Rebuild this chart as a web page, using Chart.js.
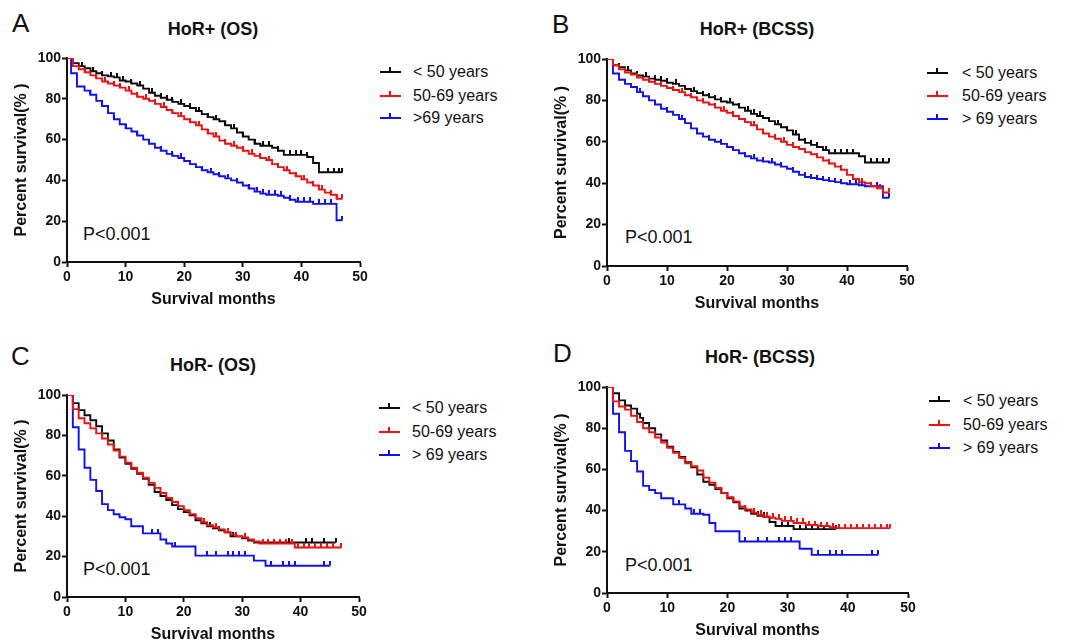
<!DOCTYPE html>
<html><head><meta charset="utf-8">
<script src="https://cdn.jsdelivr.net/npm/chart.js@4.4.1/dist/chart.umd.min.js"></script>
<style>
html,body{margin:0;padding:0;background:#fff;}
body{width:1065px;height:644px;position:relative;overflow:hidden;font-family:"Liberation Sans",Arial,Helvetica,sans-serif;color:#111;}
.abs{position:absolute;white-space:nowrap;line-height:1;}
.letter{font-size:26px;}
.title{font-size:18px;font-weight:bold;transform:translateX(-50%);}
.pval{font-size:18px;}
.leg{font-size:16px;}
.lm{position:absolute;height:2px;}
.lm i{position:absolute;left:9px;top:-4px;width:2px;height:4px;}
.box{position:absolute;}
</style></head><body>
<script>
// ---------- DATA (months, percent survival, censor months) ----------
const groupLabelsA = ["< 50 years", "50-69 years", ">69 years"];
const groupLabels  = ["< 50 years", "50-69 years", "> 69 years"];
const panelTitles  = ["HoR+ (OS)", "HoR+ (BCSS)", "HoR- (OS)", "HoR- (BCSS)"];
const panelLetters = ["A", "B", "C", "D"];
const pText = "P<0.001";
const xTicksMax = 50, xStep = 10, yTicksMax = 100, yStep = 20;

// Panel A: HoR+ (OS)
const A_lt50_t = [0,1,2,3,4,5,6,7,8,9,10,11,12,13,14,15,16,17,18,19,20,21,22,23,24,25,26,27,28,29,30,31,32,33,35,36,37,41,42,43,47];
const A_lt50_s = [100,97.5,96,95,93.5,92.5,91.5,91,90.5,89,88.5,87.5,86.5,85,83,81.5,80.5,79.5,78.5,77.5,76.5,75.5,74,72.5,71,70,69,67,65.5,63.5,61.5,60,58,57,56,54.5,52.5,51.5,48.5,44,44];
const A_lt50_c = [2.5,4.5,6,7.5,8.5,9.5,11,12.5,14.5,16,17,18,19.5,21,22.5,24,25.5,27,28.5,30,32,33.5,34.5,36,38,39,40,41,44.5,45.5,46.5,47];
const A_mid_t  = [0,1,2,3,4,5,6,7,8,9,10,11,12,13,14,15,16,17,18,19,20,21,22,23,24,25,26,27,28,29,30,31,32,33,34,35,36,37,38,39,40,41,42,43,44,45,46,47];
const A_mid_s  = [100,96,94.5,93,91.5,90,88.5,87.5,86.5,85.5,84,82.5,81,80,79,77.5,76,74.5,73,71.5,70,68.5,67,65,63,61.5,59.5,58,57,56,54.5,53,52,51,50,48,46.5,45,43.5,42,40.5,39,37.5,35.5,34,33,31,31];
const A_mid_c  = [3,5,6.5,8,9,10.5,12,13.5,15,16.5,18,19.5,21,22.5,24,25.5,27,28.5,30,31.5,33,34.5,36,37.5,39,40.5,42,43.5,45,46,47];
const A_gt69_t = [0,0.7,1.7,3,4,5,6,7,8,9,10,11,12,13,14,15,16,17,18,19,20,21,22,23,24,25,26,27,28,29,30,31,32,33,34,36,37,38,39,42,46,47];
const A_gt69_s = [100,92.5,86,84,82,79,76.5,73,70,67.5,65.5,64,62,60,58,56,54.5,53,52,51,49.5,48,46.5,45,44,43,42,41,40,39,37.5,36,34.5,33.5,33,32.5,31.5,30.5,29.5,28.5,20.5,20.5];
const A_gt69_c = [4,6,8,10,12,14,16,18,19.5,21,23,24.5,26,27.5,29,31,32.5,33.5,34.5,35.5,36.5,38,39.5,40.5,41.5,43,44,45,47];

// Panel B: HoR+ (BCSS)
const B_lt50_t = [0,1,2,3,4,5,6,7,8,9,10,11,12,13,14,15,16,17,18,19,20,21,22,23,24,25,26,27,28,29,30,31,32,33,34,35,36,37,42,43,47];
const B_lt50_s = [100,97,96,94.5,93,92,91.5,90.5,90,89.5,88.5,88,87,85.5,84.5,83.5,82.5,81.5,80.5,79.5,79,78,76.5,75,73.5,72.5,71.5,70,68.5,67,65.5,63.5,61,59.5,58.5,57.5,56,54.5,53,50,50];
const B_lt50_c = [2,3.5,5,6.5,8,9,10,11.5,13,14.5,16,17,18,19,20.5,22,23.5,24.5,25.5,27,28.5,30,31.5,33,34,35,36.5,38,39,40,41,44,45,46,47];
const B_mid_t  = [0,1,2,3,4,5,6,7,8,9,10,11,12,13,14,15,16,17,18,19,20,21,22,23,24,25,26,27,28,29,30,31,32,33,34,35,36,37,38,39,40,41,42,43,44,45,46,47];
const B_mid_s  = [100,97,95,93.5,92.5,91,90,89,88,87,86,85,84,82.5,81.5,80,79,78,76.5,75,74,72.5,71,69.5,68,66,64,62.5,61.5,60,58.5,57.5,56.5,55,54,52.5,51,49.5,48,46.5,44,42,40.5,40,38.5,37.5,35.5,35.5];
const B_mid_c  = [3,5,7,9,11,12.5,14,16,18,19.5,21,23,24.5,26,28,29.5,31,33,35,37,39,41,42.5,44,45.5,47];
const B_gt69_t = [0,1,2,3,4,5,6,7,8,9,10,11,12,13,14,15,16,17,18,19,20,21,22,23,24,25,26,27,28,29,30,31,32,33,34,35,36,37,38,39,40,42,43,46,47];
const B_gt69_s = [100,93,90,88,86.5,84,82,80,78,76,74.5,73,71,69,66.5,64,62.5,61,60,59,57.5,56,54.5,53,52,51,50.5,50,49,48,47,45.5,44,43,42.5,42,41.5,41,40.5,40,39.5,39,38.5,33,33];
const B_gt69_c = [3,5.5,8,10,12.5,15,17,19,21,23,24.5,26,27.5,29,31,33,34,35,36,37,38,39,40.5,41.5,42.5,44,45,47];

// Panel C: HoR- (OS)
const C_lt50_t = [0,1,2,3,4,5,6,7,8,9,10,11,12,13,14,15,16,17,18,19,20,21,22,23,24,25,26,27,28,30,31,32,46];
const C_lt50_s = [100,96,92.5,90,87.5,84.5,81,77.5,73,69,66,63.5,61,58.5,55.5,52,50,48,45.5,43.5,42,40.5,38,36.5,35,34,33,32,30,29,28,27,27];
const C_lt50_c = [24.5,26,28.5,38,41,42,44,46];
const C_mid_t  = [0,1,2,3,4,5,6,7,8,9,10,11,12,13,14,15,16,17,18,19,20,21,22,23,24,25,26,27,28,29,30,31,32,33,39,47];
const C_mid_s  = [100,93,88.5,86,83.5,81,78.5,75.5,72.5,69.5,66.5,64,61.5,59,56.5,54,51.5,49,47,45,43,41,39,37,35.5,34.5,33.5,32,31,30,29.5,28.5,27.5,26.5,24.5,24.5];
const C_mid_c  = [19,23.5,25.5,27.5,29,30.5,33.5,34.5,35.5,36.5,37.5,38.5,39.5,40.5,41.5,42.5,43.5,44.5,45.5,47];
const C_gt69_t = [0,1,2,3,4,5,6,7,8,9,10,11,13,16,17,18,22,32,34,45];
const C_gt69_s = [100,84,73,64,58,52.5,46,43,41,39.5,38.5,35,31.5,28.5,26.5,25,20.5,18,15.5,15.5];
const C_gt69_c = [14.5,15.5,18.5,24,25.5,27.5,28.5,29.5,30.5,35,37,38,39,44,45];

// Panel D: HoR- (BCSS)
const D_lt50_t = [0,1,2,3,4,5,5.5,6,7,8,9,10,11,12,13,14,15,16,17,18,19,20,21,22,23,24,25,26,27,28,31,38];
const D_lt50_s = [100,97,93.5,91,89.5,87,85,82.5,80,77,74,71,68.5,66,63.5,61,57.5,54,52.5,50.5,48.5,46,44,41,40,38.5,37.5,37,34.5,32.5,31,31];
const D_lt50_c = [24,25,26,29,30,32,33,34,35,36,38];
const D_mid_t  = [0,1,2,3,4,5,6,7,8,9,10,11,12,13,14,15,16,17,18,19,20,21,22,23,24,25,26,27,28,29,31,33,35,37,38,47];
const D_mid_s  = [100,93,90.5,89,86,83,80,78,75.5,73,70.5,68,65.5,63,61.5,59.5,56,53.5,51,48.5,46.5,44.5,42,40.5,39,38,37,36.5,36,35,34,33,32.5,32,31.5,31.5];
const D_mid_c  = [21,23,24.5,25.5,26.5,27.5,28.5,29.5,30.5,31.5,32.5,33.5,34.5,35.5,36.5,37.5,38.5,39.5,40.5,41.5,42.5,43.5,44.5,45.5,46.5,47];
const D_gt69_t = [0,1,2,3,4,5,6,7,8,9,11,13,14,16,17,18,22,32,34,45];
const D_gt69_s = [100,87,78,69,64,59,52,50,48.5,46,43,41,38.5,38,34,30,25,21.5,18.5,18.5];
const D_gt69_c = [12,14.5,15.5,23,25,26.5,28.5,29.5,30.5,35,37,38,39,44,45];

// ---------- STYLE / LAYOUT ----------
const FONT = "'Liberation Sans', Arial, Helvetica, sans-serif";
const COLORS = ["#0a0a0a", "#ee1111", "#1111ee"];
const panels = [
  {L:67, T:58, R:360, B:262, letter:[12,10], title:[213,19.5], p:[83,224.5], legLine:[380,401], legText:413, rows:[72,96,118],
   series:[[A_lt50_t,A_lt50_s,A_lt50_c],[A_mid_t,A_mid_s,A_mid_c],[A_gt69_t,A_gt69_s,A_gt69_c]], labels:groupLabelsA},
  {L:607, T:59, R:907, B:266, letter:[552,11], title:[757,20], p:[625,227.5], legLine:[927,948], legText:962, rows:[72.5,96,119],
   series:[[B_lt50_t,B_lt50_s,B_lt50_c],[B_mid_t,B_mid_s,B_mid_c],[B_gt69_t,B_gt69_s,B_gt69_c]], labels:groupLabels},
  {L:67, T:395, R:359, B:597, letter:[11,343], title:[213,356], p:[83,559.5], legLine:[379,400], legText:412, rows:[408,431.5,455],
   series:[[C_lt50_t,C_lt50_s,C_lt50_c],[C_mid_t,C_mid_s,C_mid_c],[C_gt69_t,C_gt69_s,C_gt69_c]], labels:groupLabels},
  {L:607, T:387, R:908, B:593, letter:[553,340], title:[760,348], p:[625,556], legLine:[929,950], legText:963, rows:[401,424.5,448],
   series:[[D_lt50_t,D_lt50_s,D_lt50_c],[D_mid_t,D_mid_s,D_mid_c],[D_gt69_t,D_gt69_s,D_gt69_c]], labels:groupLabels}
];

function survAt(ts, ss, t) {
  let v = ss[0];
  for (let i = 0; i < ts.length; i++) { if (ts[i] <= t) v = ss[i]; }
  return v;
}
const tickImgs = {};
function tickImg(color) {
  if (tickImgs[color]) return tickImgs[color];
  const c = document.createElement('canvas');
  c.width = 2; c.height = 9;
  const g = c.getContext('2d');
  g.fillStyle = color; g.fillRect(0, 0, 2, 4.5);
  tickImgs[color] = c;
  return c;
}
function addText(cls, txt, x, y) {
  const d = document.createElement('div');
  d.className = 'abs ' + cls; d.textContent = txt;
  d.style.left = x + 'px'; d.style.top = y + 'px';
  document.body.appendChild(d);
  return d;
}

panels.forEach((p, k) => {
  addText('letter', panelLetters[k], p.letter[0], p.letter[1]);
  addText('title', panelTitles[k], p.title[0], p.title[1]);
  addText('pval', pText, p.p[0], p.p[1]);
  p.rows.forEach((cy, i) => {
    const m = document.createElement('div');
    m.className = 'lm';
    m.style.left = p.legLine[0] + 'px'; m.style.width = (p.legLine[1] - p.legLine[0]) + 'px';
    m.style.top = (cy - 1) + 'px'; m.style.background = COLORS[i];
    const t = document.createElement('i'); t.style.background = COLORS[i];
    m.appendChild(t); document.body.appendChild(m);
    addText('leg', p.labels[i], p.legText, cy - 8);
  });

  const left = p.L - 67, top = p.T - 10, w = p.R - p.L + 77, h = p.B - p.T + 60;
  const box = document.createElement('div'); box.className = 'box';
  box.style.left = left + 'px'; box.style.top = top + 'px';
  box.style.width = w + 'px'; box.style.height = h + 'px';
  const cv = document.createElement('canvas');
  cv.width = w; cv.height = h; cv.style.width = w + 'px'; cv.style.height = h + 'px';
  box.appendChild(cv); document.body.appendChild(box);

  const datasets = [];
  const orders = [1, 0, 2];
  p.series.forEach((s, i) => {
    const [ts, ss, cs] = s;
    datasets.push({
      label: p.labels[i],
      data: ts.map((t, j) => ({x: t, y: ss[j]})),
      stepped: 'before', borderColor: COLORS[i], backgroundColor: COLORS[i],
      borderWidth: 1.9, pointRadius: 0, fill: false, order: orders[i], tension: 0
    });
    datasets.push({
      label: p.labels[i] + ' censored',
      data: cs.map(t => ({x: t, y: survAt(ts, ss, t)})),
      showLine: false, pointStyle: tickImg(COLORS[i]), pointRadius: 3,
      borderColor: COLORS[i], backgroundColor: COLORS[i], order: orders[i]
    });
  });

  const tickFont = {family: FONT, size: 14, weight: 'bold'};
  const titleFont = {family: FONT, size: 16, weight: 'bold'};
  new Chart(cv, {
    type: 'line',
    data: {datasets},
    options: {
      responsive: false, animation: false, devicePixelRatio: 1,
      layout: {padding: {left: 0, top: 10, right: 10, bottom: 0}},
      plugins: {legend: {display: false}, tooltip: {enabled: false}, title: {display: false}},
      scales: {
        x: {
          type: 'linear', min: 0, max: xTicksMax,
          ticks: {stepSize: xStep, font: tickFont, color: '#111', padding: 2, maxRotation: 0},
          grid: {display: true, drawOnChartArea: false, drawTicks: true, tickLength: 5, tickWidth: 2, tickColor: '#111', color: '#111'},
          border: {display: true, color: '#111', width: 2},
          title: {display: true, text: 'Survival months', font: titleFont, color: '#111', padding: {top: 0, bottom: 2.5}},
          afterFit: s => { s.height = 50; }
        },
        y: {
          type: 'linear', min: 0, max: yTicksMax,
          ticks: {stepSize: yStep, font: tickFont, color: '#111', padding: 1},
          grid: {display: true, drawOnChartArea: false, drawTicks: true, tickLength: 5, tickWidth: 2, tickColor: '#111', color: '#111'},
          border: {display: true, color: '#111', width: 2},
          title: {display: true, text: 'Percent survival(% )', font: titleFont, color: '#111', padding: {top: 12, bottom: 0}},
          afterFit: s => { s.width = 67; }
        }
      }
    }
  });
});
</script>
</body></html>
